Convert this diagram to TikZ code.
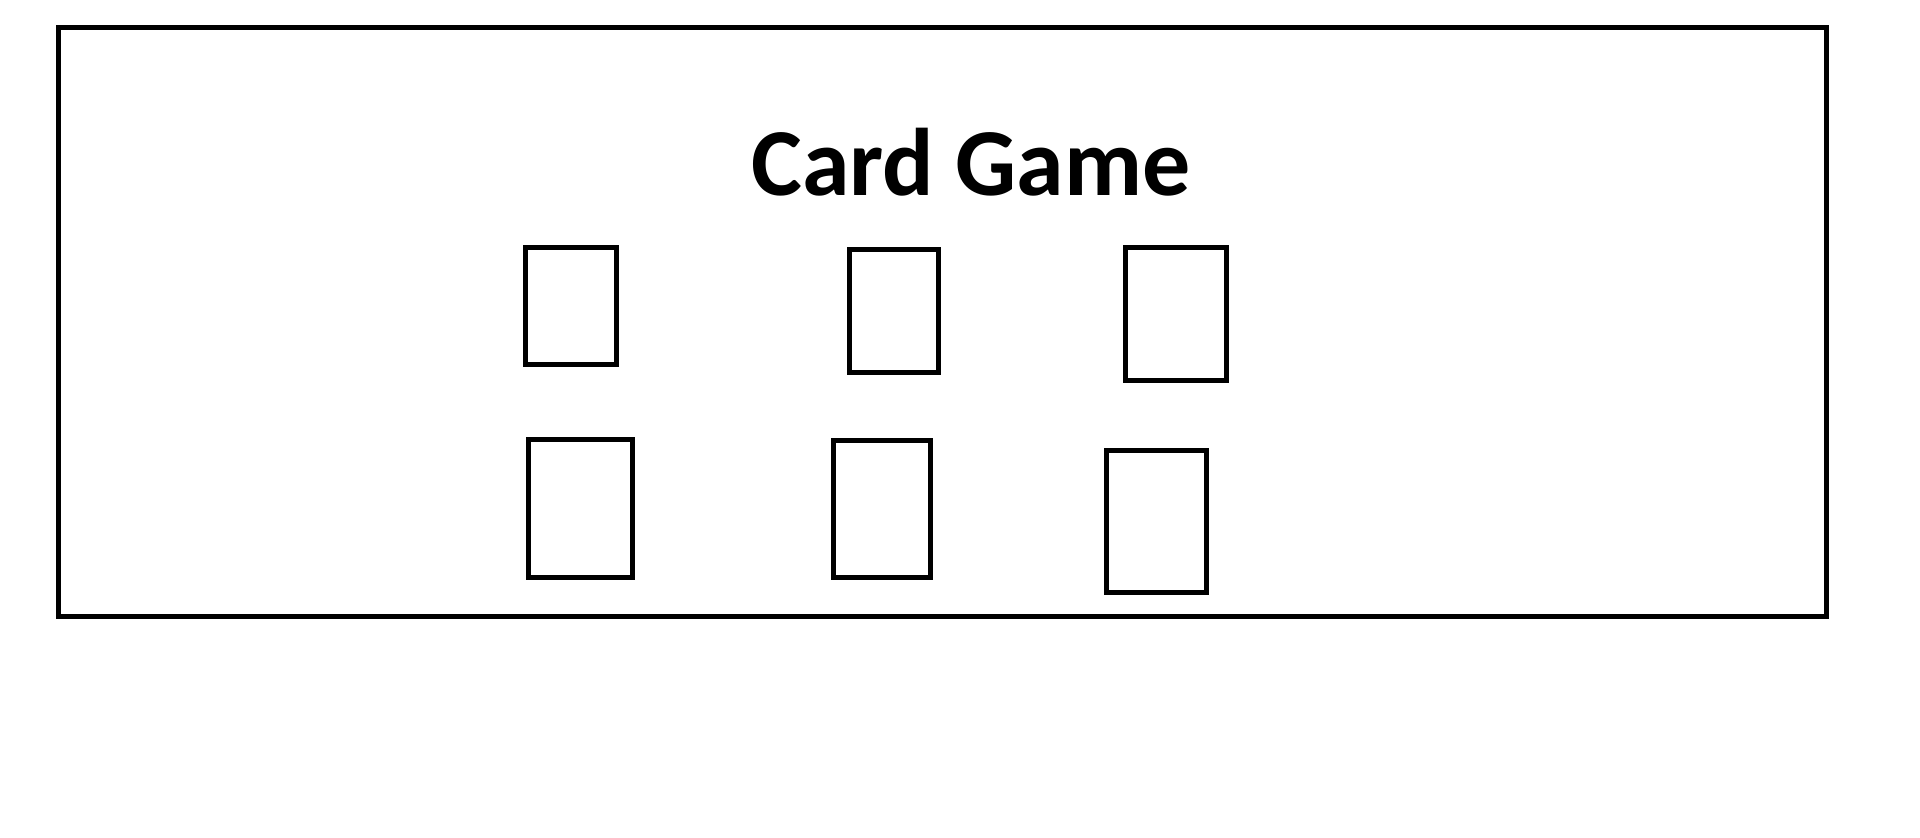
\documentclass[tikz,border=0pt]{standalone}
\usepackage{fontspec}
\setmainfont{Carlito}
\begin{document}
\begin{tikzpicture}[x=0.5pt,y=-0.5pt,
  frame/.style={draw=black,line width=2.5pt},
  card/.style={draw=black,line width=2.5pt,inner sep=0pt,outer sep=0pt,fill=white},
  titletext/.style={inner sep=0pt,font=\fontsize{48}{58}\selectfont\bfseries}]
\useasboundingbox (0,0) rectangle (1920,837);
\draw[frame] (58.2,27.2) rectangle (1826.5,616.5);
\node[titletext,anchor=base west] (title) at (751,195) {Card Game};
\node[card,minimum width=45.25pt,minimum height=58.5pt] (c1) at (571,306.3) {};
\node[card,minimum width=44.05pt,minimum height=61.5pt] (c2) at (894,311.3) {};
\node[card,minimum width=50.35pt,minimum height=66.2pt] (c3) at (1175.75,314) {};
\node[card,minimum width=52.25pt,minimum height=69.15pt] (c4) at (580.45,508.35) {};
\node[card,minimum width=48.4pt,minimum height=68.5pt] (c5) at (882,509) {};
\node[card,minimum width=50.1pt,minimum height=70.85pt] (c6) at (1156.6,521.35) {};
\end{tikzpicture}
\end{document}
